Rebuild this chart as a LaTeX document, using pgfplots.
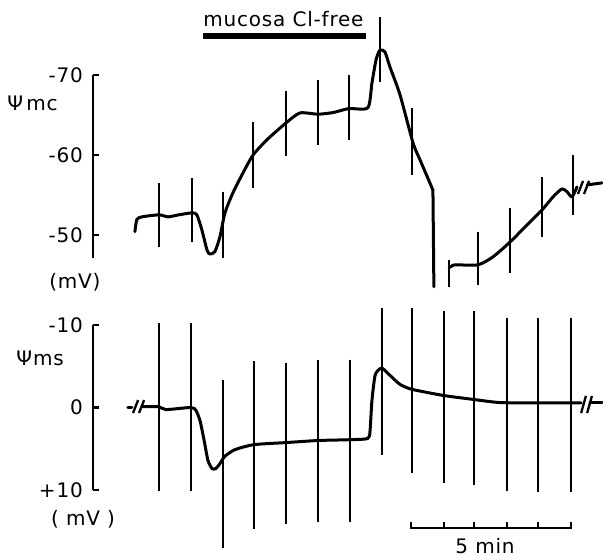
\documentclass[border=0pt]{standalone}
\usepackage{fontspec}
\setmainfont{DejaVu Sans}[LetterSpace=4]
\usepackage{pgfplots}
\pgfplotsset{compat=1.18}

\newcommand\lbl{\fontsize{10}{12}\selectfont}

\pgfplotsset{
  trace/.style={black, line width=1.5pt, line join=round, line cap=round},
  pulse/.style={black, line width=1.15pt, unbounded coords=jump},
  panel/.style={
    scale only axis, width=254.4pt,
    xmin=-1.1, xmax=15,
    axis x line=none, axis y line=left,
    y axis line style={-, line width=1.1pt},
    y dir=reverse,
    tick align=inside, major tick length=3pt,
    tick style={line width=1.1pt, black},
    yticklabel style={font=\lbl, inner sep=0pt, xshift=-5pt},
    clip=false
  }
}

\begin{document}
\begin{tikzpicture}
\path[use as bounding box] (0,0) rectangle (301.5pt,-279pt);

% upper panel: psi mc
\begin{axis}[panel, at={(46.6pt,-129pt)}, anchor=south west,
  height=91.5pt, ymin=-70, ymax=-47.1,
  ytick={-70,-60,-50}, yticklabels={-70,-60,-50}]
  \addplot[trace, smooth, tension=0.4] coordinates {
    (0.22,-50.4) (0.28,-51.9) (0.44,-52.25) (0.98,-52.5) (1.27,-52.25)
    (1.6,-52.5) (2.03,-52.75) (2.18,-52.5) (2.34,-50.6) (2.50,-48.1)
    (2.59,-47.6) (2.75,-47.9) (2.91,-49.75) (3.07,-52.75) (3.32,-55.25)
    (3.64,-57.75) (3.96,-60) (4.40,-61.9) (5.00,-64) (5.44,-65.25)
    (6.01,-65.1) (6.49,-65.3) (6.99,-65.8) (7.59,-65.9) (7.72,-69)
    (7.85,-71.9) (7.97,-73.1) (8.13,-72.9) (8.29,-71) (8.61,-67.5)
    (9.02,-61.5) (9.24,-59.4) (9.65,-55.6)
  };
  \addplot[trace] coordinates {(9.65,-55.6) (9.68,-43.5)};
  \addplot[trace, smooth, tension=0.4] coordinates {
    (10.16,-45.9) (10.25,-46.1) (10.35,-46.25) (11.08,-46.25) (11.55,-47.25)
    (12.09,-49.1) (12.63,-51.25) (13.10,-53.1) (13.45,-54.75) (13.73,-55.75)
    (13.89,-55.4) (14.05,-54.75) (14.21,-56)
  };
  \addplot[trace] coordinates {(14.53,-56.25) (15.0,-56.5)};
  \addplot[pulse] coordinates {
    (14.24,-55.1) (14.40,-56.75) (14.40,nan)
    (14.43,-55.1) (14.59,-56.75)
  };
  \addplot[pulse] coordinates {
    (0.98,-56.5) (0.98,-48.5) (0.98,nan)
    (2.03,-57.1) (2.03,-49.1) (2.03,nan)
    (3.01,-55.4) (3.01,-47.1) (3.01,nan)
    (3.96,-64.1) (3.96,-55.9) (3.96,nan)
    (5.00,-68) (5.00,-59.9) (5.00,nan)
    (6.01,-69.4) (6.01,-61.25) (6.01,nan)
    (6.99,-70) (6.99,-61.9) (6.99,nan)
    (7.97,-77.25) (7.97,-69.1) (7.97,nan)
    (8.99,-65.9) (8.99,-57.5) (8.99,nan)
    (10.16,-46.9) (10.16,-43.5) (10.16,nan)
    (11.08,-50.4) (11.08,-43.75) (11.08,nan)
    (12.09,-53.4) (12.09,-45.25) (12.09,nan)
    (13.10,-57.25) (13.10,-49.75) (13.10,nan)
    (14.08,-60) (14.08,-52.5)
  };
  % perfusion bar
  \addplot[black, line width=3pt] coordinates {(2.37,-74.9) (7.53,-74.9)};
  \node[anchor=base, font=\lbl] at (axis cs:4.92,-76.1) {mucosa Cl-free};
  \node[font=\lbl] at (axis cs:-3.02,-66.4) {Ψ\,mc};
  \node[font=\lbl] at (axis cs:-1.68,-44.1) {(mV)};
\end{axis}

% lower panel: psi ms
\begin{axis}[panel, at={(46.6pt,-245pt)}, anchor=south west,
  height=82.5pt, ymin=-10, ymax=10,
  ytick={-10,0,10}, yticklabels={-10,0,+10}]
  \addplot[trace] coordinates {(0,0) (0.12,0)};
  \addplot[pulse] coordinates {
    (0.16,0.67) (0.32,-0.9) (0.32,nan)
    (0.35,0.67) (0.51,-0.9)
  };
  \addplot[trace, smooth, tension=0.4] coordinates {
    (0.47,-0.1) (0.98,-0.1) (1.20,0.25) (1.99,0) (2.15,0.35) (2.28,1.6)
    (2.41,4) (2.53,6.4) (2.66,7.4) (2.78,7.4) (2.91,6.8) (3.07,5.9)
    (3.39,5.1) (3.99,4.5) (5.0,4.25) (6.01,4) (7.03,3.9) (7.59,3.75)
    (7.66,2.8) (7.72,-0.85) (7.82,-3.9) (7.97,-4.7) (8.07,-4.7) (8.29,-3.9)
    (8.61,-2.8) (8.99,-2.2) (10.0,-1.45) (10.95,-0.97) (11.77,-0.6)
    (12.97,-0.55) (14.02,-0.55) (14.34,-0.55)
  };
  \addplot[pulse] coordinates {
    (14.34,0.67) (14.49,-1.4) (14.49,nan)
    (14.53,0.67) (14.68,-1.4)
  };
  \addplot[trace] coordinates {(14.62,-0.55) (15.0,-0.55)};
  \addplot[pulse] coordinates {
    (0.98,-10.2) (0.98,10.1) (0.98,nan)
    (1.99,-10.2) (1.99,10.1) (1.99,nan)
    (3.01,-3.3) (3.01,17) (3.01,nan)
    (3.99,-5.6) (3.99,14.7) (3.99,nan)
    (5.0,-5.45) (5.0,14.1) (5.0,nan)
    (6.01,-5.7) (6.01,13.9) (6.01,nan)
    (7.03,-5.8) (7.03,13.9) (7.03,nan)
    (8.04,-12.1) (8.04,5.8) (8.04,nan)
    (8.99,-12.1) (8.99,7.9) (8.99,nan)
    (10.0,-11.75) (10.0,9.1) (10.0,nan)
    (10.95,-11.75) (10.95,9.45) (10.95,nan)
    (11.99,-10.9) (11.99,10.1) (11.99,nan)
    (12.97,-10.8) (12.97,10.3) (12.97,nan)
    (14.02,-10.9) (14.02,10.3)
  };
  % 5 min scale bar
  \addplot[black, line width=1pt, unbounded coords=jump] coordinates {
    (8.96,14.6) (14.02,14.6) (14.02,nan)
    (8.96,13.9) (8.96,14.7) (8.96,nan)
    (10.0,13.9) (10.0,14.6) (10.0,nan)
    (10.95,13.9) (10.95,14.6) (10.95,nan)
    (11.99,13.9) (11.99,14.6) (11.99,nan)
    (12.97,13.9) (12.97,14.6) (12.97,nan)
    (14.02,13.9) (14.02,14.7)
  };
  \node[font=\lbl] at (axis cs:11.3,16.8) {5 min};
  \node[font=\lbl] at (axis cs:-2.78,-6.0) {Ψms};
  \node[font=\lbl] at (axis cs:-1.42,13.6) {( mV )};
\end{axis}
\end{tikzpicture}
\end{document}
